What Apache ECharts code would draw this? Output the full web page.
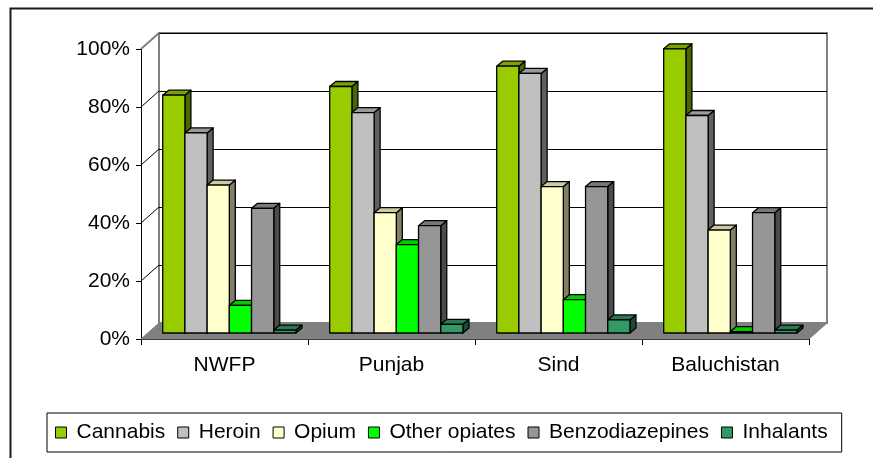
<!DOCTYPE html>
<html><head><meta charset="utf-8">
<script src="https://cdn.jsdelivr.net/npm/echarts@6/dist/echarts.min.js"></script>
<style>html,body{margin:0;padding:0;background:#fff}#c{width:873px;height:458px}</style>
</head><body><div id="c"></div>
<script>
const categories = ['NWFP', 'Punjab', 'Sind', 'Baluchistan'];
const seriesNames = ['Cannabis', 'Heroin', 'Opium', 'Other opiates', 'Benzodiazepines', 'Inhalants'];
const cannabis = [82, 85, 92, 98];
const heroin = [69, 76, 89.5, 75];
const opium = [51, 41.5, 50.5, 35.5];
const otherOpiates = [9.5, 30.5, 11.5, 0.5];
const benzodiazepines = [43, 37, 50.5, 41.5];
const inhalants = [1, 3, 4.5, 1];
const yTicks = [0, 20, 40, 60, 80, 100];

const values = [cannabis, heroin, opium, otherOpiates, benzodiazepines, inhalants];
const faceColors = [
  ['#99CC00', '#7AA300', '#4C6600'],
  ['#C0C0C0', '#9A9A9A', '#606060'],
  ['#FFFFCC', '#CCCCA3', '#808066'],
  ['#00FF00', '#00CC00', '#008000'],
  ['#969696', '#787878', '#4B4B4B'],
  ['#339966', '#297A52', '#1A4D33']
];
const FONT = 'Liberation Sans, Arial, sans-serif';
const FS = 21;
const WALL_DX = 18, WALL_DY = -16;   // depth of the chart box
const PLANE_DX = 5, PLANE_DY = -6;   // bars' front plane
const BAR_DX = 6, BAR_DY = -5;       // bar depth

function barRender(k) {
  return function (params, api) {
    const ci = api.value(0), v = api.value(1);
    const bw = api.size([1, 0])[0];
    const c0 = api.coord([ci, 0]);
    const c1 = api.coord([ci, v]);
    const w = bw * 0.133;
    const x0 = c0[0] - bw / 2 + bw * 0.1 + k * w + PLANE_DX;
    const yb = c0[1] + PLANE_DY;
    const yt = c1[1] + PLANE_DY;
    const col = faceColors[k];
    const st = { stroke: '#000', lineWidth: 1.3, lineJoin: 'round' };
    return {
      type: 'group',
      children: [
        { type: 'polygon', shape: { points: [[x0 + w, yt], [x0 + w + BAR_DX, yt + BAR_DY], [x0 + w + BAR_DX, yb + BAR_DY], [x0 + w, yb]] }, style: Object.assign({ fill: col[2] }, st) },
        { type: 'polygon', shape: { points: [[x0, yt], [x0 + BAR_DX, yt + BAR_DY], [x0 + w + BAR_DX, yt + BAR_DY], [x0 + w, yt]] }, style: Object.assign({ fill: col[1] }, st) },
        { type: 'rect', shape: { x: x0, y: yt, width: w, height: yb - yt }, style: Object.assign({ fill: col[0] }, st) }
      ]
    };
  };
}

const series = [];
// floor
series.push({
  type: 'custom', name: 'floor', xAxisIndex: 0, yAxisIndex: 0, z: 1, silent: true,
  data: [[0, 0]],
  renderItem: function (params, api) {
    const bw = api.size([1, 0])[0];
    const l = api.coord([0, 0]);
    const r = api.coord([categories.length - 1, 0]);
    const xl = l[0] - bw / 2, xr = r[0] + bw / 2, y = l[1];
    return { type: 'polygon', shape: { points: [[xl, y], [xl + WALL_DX, y + WALL_DY], [xr + WALL_DX, y + WALL_DY], [xr, y]] }, style: { fill: '#808080', stroke: '#808080', lineWidth: 1 } };
  }
});
// left wall diagonals
series.push({
  type: 'custom', name: 'diag', xAxisIndex: 0, yAxisIndex: 0, z: 1, silent: true,
  data: yTicks.slice(1).map(t => [0, t]),
  renderItem: function (params, api) {
    const bw = api.size([1, 0])[0];
    const p = api.coord([0, api.value(1)]);
    const x = p[0] - bw / 2;
    const top = api.value(1) === yTicks[yTicks.length - 1];
    return { type: 'line', shape: { x1: x, y1: p[1], x2: x + WALL_DX, y2: p[1] + WALL_DY }, style: { stroke: top ? '#808080' : '#000', lineWidth: top ? 2 : 1 } };
  }
});
seriesNames.forEach((n, k) => {
  series.push({
    type: 'custom', name: n, xAxisIndex: 0, yAxisIndex: 0, z: 3,
    itemStyle: { color: faceColors[k][0] },
    data: values[k].map((v, i) => [i, v]),
    renderItem: barRender(k)
  });
});

const chart = echarts.init(document.getElementById('c'), null, { renderer: 'canvas' });
chart.setOption({
  animation: false,
  backgroundColor: '#fff',
  textStyle: { fontFamily: FONT },
  graphic: [{ type: 'rect', left: 8, top: 6, shape: { width: 900, height: 500 }, style: { fill: 'none', stroke: '#1a1a1a', lineWidth: 2 }, z: 10 }],
  grid: [
    { left: 141, right: 64, top: 49, bottom: 119 },
    { left: 159, right: 46, top: 33, bottom: 135, show: true, borderColor: '#808080', borderWidth: 2, backgroundColor: 'transparent' }
  ],
  xAxis: [
    { gridIndex: 0, type: 'category', data: categories, boundaryGap: true,
      axisLine: { lineStyle: { color: '#000', width: 1 } },
      axisTick: { show: true, length: 6, interval: 0, lineStyle: { color: '#000' } },
      axisLabel: { fontSize: FS, color: '#000', margin: 16, fontFamily: FONT } },
    { gridIndex: 1, type: 'category', data: categories, show: false }
  ],
  yAxis: [
    { gridIndex: 0, type: 'value', min: 0, max: 100, interval: 20,
      axisLine: { show: true, lineStyle: { color: '#000', width: 1 } },
      axisTick: { show: true, length: 5, lineStyle: { color: '#000' } },
      splitLine: { show: false },
      axisLabel: { fontSize: FS, color: '#000', margin: 11, formatter: '{value}%', fontFamily: FONT } },
    { gridIndex: 1, type: 'value', min: 0, max: 100, interval: 20,
      axisLine: { show: false }, axisTick: { show: false }, axisLabel: { show: false },
      splitLine: { show: true, lineStyle: { color: '#000', width: 1 } } }
  ],
  legend: {
    data: seriesNames, left: 47, top: 413, orient: 'horizontal',
    padding: [9, 14, 9, 8], itemGap: 12, itemWidth: 11, itemHeight: 11, icon: 'rect',
    borderColor: '#000', borderWidth: 1,
    itemStyle: { borderColor: '#000', borderWidth: 1 },
    textStyle: { fontSize: FS, color: '#000', fontFamily: FONT, padding: [0, 0, 0, 5] }
  },
  series: series
});
</script></body></html>
